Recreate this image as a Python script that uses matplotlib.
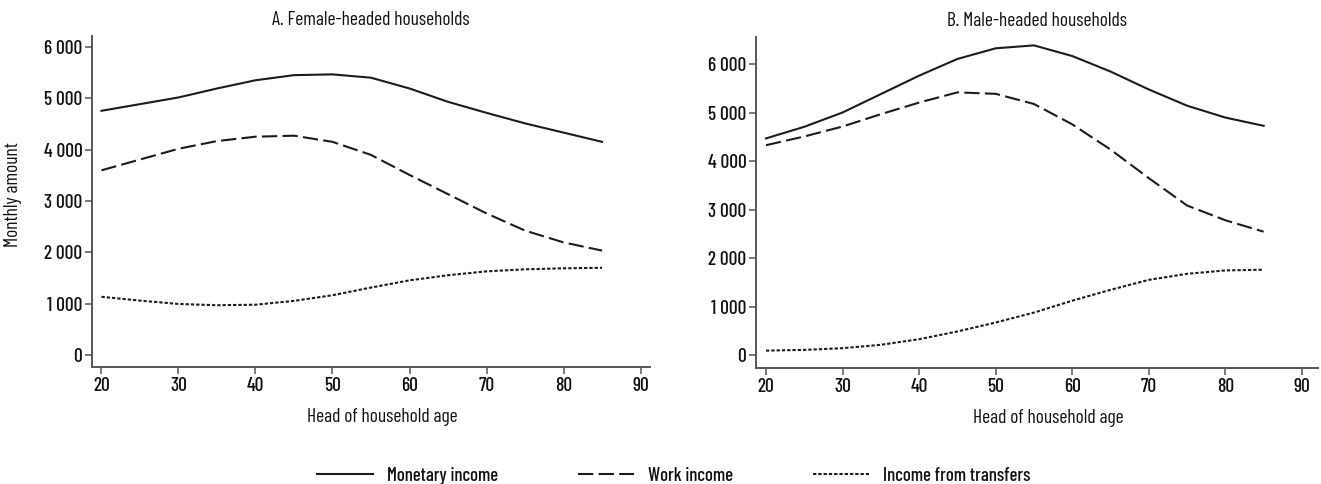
import matplotlib
matplotlib.use("Agg")
import matplotlib.pyplot as plt

# Narrow sans-serif face for all text
plt.rcParams["font.family"] = ["Barlow Condensed", "DejaVu Sans"]
plt.rcParams["font.weight"] = 500
plt.rcParams["lines.scale_dashes"] = False

# Head of household age
ages = [20, 25, 30, 35, 40, 45, 50, 55, 60, 65, 70, 75, 80, 85]

# A. Female-headed households (monthly amounts)
fem_monetary = [4760, 4890, 5020, 5195, 5355, 5455, 5470, 5405, 5195, 4935, 4720, 4515, 4335, 4155]
fem_work = [3600, 3810, 4020, 4170, 4255, 4275, 4155, 3900, 3510, 3135, 2760, 2425, 2195, 2035]
fem_transfers = [1135, 1060, 995, 970, 980, 1055, 1165, 1315, 1455, 1555, 1630, 1670, 1690, 1700]

# B. Male-headed households (monthly amounts)
male_monetary = [4470, 4710, 5005, 5385, 5765, 6110, 6330, 6390, 6170, 5850, 5480, 5145, 4900, 4730]
male_work = [4330, 4510, 4715, 4970, 5210, 5420, 5390, 5180, 4760, 4240, 3650, 3085, 2780, 2545]
male_transfers = [90, 105, 140, 210, 325, 485, 670, 875, 1120, 1345, 1550, 1675, 1745, 1760]

series_labels = ["Monetary income", "Work income", "Income from transfers"]
x_ticks = [20, 30, 40, 50, 60, 70, 80, 90]
y_ticks = [0, 1000, 2000, 3000, 4000, 5000, 6000]

W, H = 1321, 484
fig = plt.figure(figsize=(W / 100, H / 100), dpi=100)

line_color = "#1c1c1c"
axis_color = "#555555"
text_color = "#111111"
fs = 14
styles = [
    dict(linestyle="-"),
    dict(linestyle=(0, (11, 3.8))),
    dict(linestyle=(0, (2.4, 1.4))),
]


def fmt(v):
    return f"{v:,}".replace(",", " ")


def panel(rect, xlim, ylim, series, title, ylabel=None):
    ax = fig.add_axes(rect)
    lines = []
    for vals, st in zip(series, styles):
        (ln,) = ax.plot(ages, vals, color=line_color, lw=1.5,
                        solid_joinstyle="round", dash_joinstyle="round", **st)
        lines.append(ln)
    ax.set_xlim(*xlim)
    ax.set_ylim(*ylim)
    ax.set_xticks(x_ticks)
    ax.set_yticks(y_ticks)
    ax.set_yticklabels([fmt(v) for v in y_ticks])
    for s in ("top", "right"):
        ax.spines[s].set_visible(False)
    for s in ("left", "bottom"):
        ax.spines[s].set_color(axis_color)
        ax.spines[s].set_linewidth(1.4)
    ax.tick_params(direction="out", length=5, width=1.1, color=axis_color,
                   labelsize=fs, labelcolor=text_color, pad=2)
    ax.set_title(title, fontsize=fs, color=text_color, pad=8)
    ax.set_xlabel("Head of household age", fontsize=fs, color=text_color)
    width_px = rect[2] * W
    height_px = rect[3] * H
    ax.xaxis.set_label_coords(0.5 + 11 / width_px, -41 / height_px)
    if ylabel:
        ax.set_ylabel(ylabel, fontsize=fs, color=text_color)
        ax.yaxis.set_label_coords(-70 / width_px, 0.52)
    return ax, lines


axA, lines = panel(
    [92 / W, 1 - 367 / H, (650 - 92) / W, (367 - 36) / H],
    (18.77, 91.23), (-234, 6218),
    [fem_monetary, fem_work, fem_transfers],
    "A. Female-headed households", ylabel="Monthly amount",
)
axB, _ = panel(
    [756 / W, 1 - 368 / H, (1318 - 756) / W, (368 - 37) / H],
    (18.69, 92.1), (-269, 6563),
    [male_monetary, male_work, male_transfers],
    "B. Male-headed households",
)

fig.legend(lines, series_labels, loc="center left",
           bbox_to_anchor=(317 / W, 1 - 476 / H), ncol=3, frameon=False,
           fontsize=13.5, handlelength=3.0, handletextpad=0.75,
           columnspacing=4.25, borderpad=0, borderaxespad=0,
           labelcolor=text_color)

fig.savefig("out.png", dpi=100, facecolor="white")
